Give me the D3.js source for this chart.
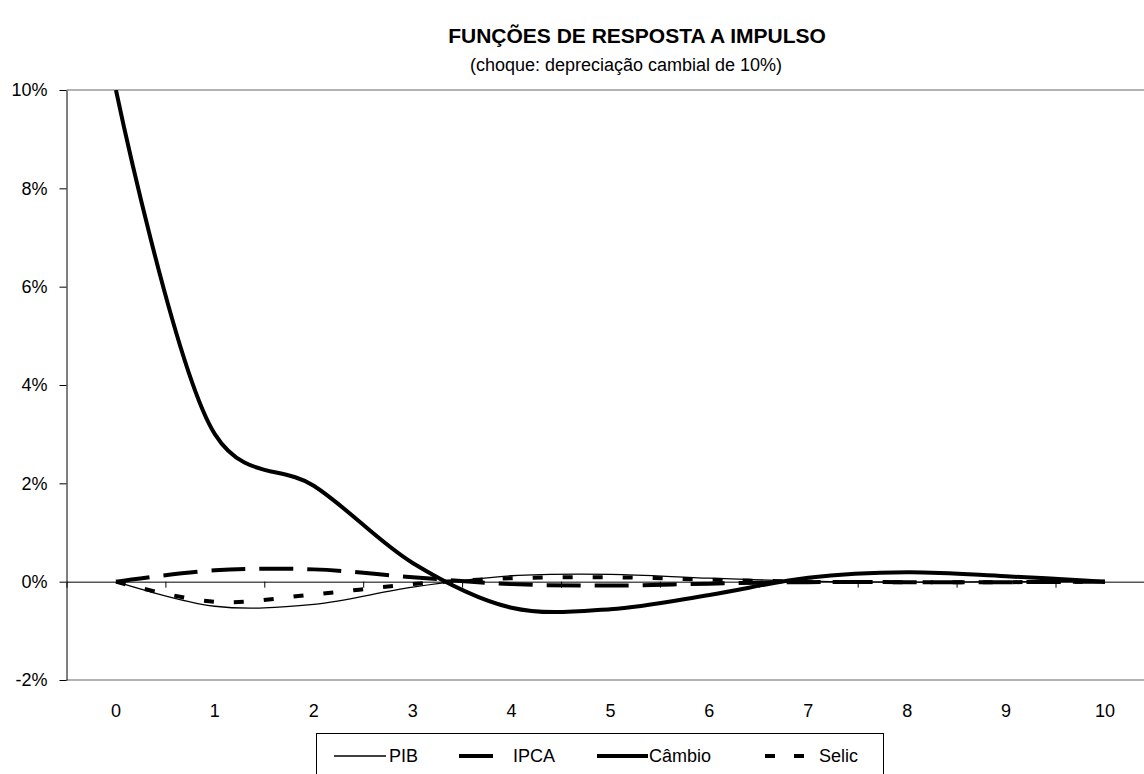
<!DOCTYPE html>
<html>
<head>
<meta charset="utf-8">
<script src="https://cdn.jsdelivr.net/npm/d3@7"></script>
<style>
  html, body { margin: 0; padding: 0; background: #fff; }
  svg { display: block; }
  text { font-family: "Liberation Sans", Arial, sans-serif; fill: #000; }
</style>
</head>
<body>
<svg id="chart" width="1144" height="774"></svg>
<script>
// ---- data ----
const periods = [0, 1, 2, 3, 4, 5, 6, 7, 8, 9, 10];
const pib    = [0, -0.50, -0.46, -0.11, 0.12, 0.15, 0.07, 0.01, -0.01, 0.00, 0.00];
const ipca   = [0, 0.23, 0.25, 0.09, -0.05, -0.08, -0.04, -0.01, -0.01, -0.01, 0.00];
const cambio = [10, 3.0, 1.95, 0.38, -0.53, -0.56, -0.27, 0.08, 0.19, 0.11, 0.00];
const selic  = [0, -0.41, -0.26, -0.05, 0.07, 0.09, 0.04, 0.00, -0.01, -0.01, 0.00];
const yTicks = [-2, 0, 2, 4, 6, 8, 10];
const seriesNames = ["PIB", "IPCA", "Câmbio", "Selic"];
const titleText = "FUNÇÕES DE RESPOSTA A IMPULSO";
const subtitleText = "(choque: depreciação cambial de 10%)";

(function () {
// ---- layout ----
const svg = d3.select("#chart");
const pLeft = 66.5, pTop = 90, pBottom = 680;
const x = d3.scaleLinear().domain([-0.5, 10.5]).range([pLeft, pLeft + 11 * 98.9]);
const y = d3.scaleLinear().domain([-2, 10]).range([pBottom, pTop]);
const font = "Liberation Sans, Arial, sans-serif";

// title
svg.append("text").attr("x", 637).attr("y", 43).attr("text-anchor", "middle")
  .style("font-size", "21px").style("font-weight", "bold").text(titleText);
svg.append("text").attr("x", 626).attr("y", 71).attr("text-anchor", "middle")
  .style("font-size", "18px").text(subtitleText);

// plot borders (top & bottom, gray)
svg.append("line").attr("x1", pLeft).attr("x2", 1144).attr("y1", y(10)).attr("y2", y(10))
  .attr("stroke", "#999").attr("stroke-width", 1.5);
svg.append("line").attr("x1", pLeft).attr("x2", 1144).attr("y1", y(-2)).attr("y2", y(-2))
  .attr("stroke", "#999").attr("stroke-width", 1.5);

// y axis
const yAxis = svg.append("g").attr("transform", `translate(${pLeft},0)`)
  .call(d3.axisLeft(y).tickValues(yTicks).tickFormat(d => d + "%").tickSizeInner(7).tickSizeOuter(0).tickPadding(12));
yAxis.selectAll("text").style("font-size", "18px").style("font-family", font);
yAxis.selectAll("line, path").attr("stroke", "#000");

// zero line with category-boundary ticks
const bounds = d3.range(-0.5, 11, 1);
const xAxis = svg.append("g").attr("transform", `translate(0,${y(0)})`)
  .call(d3.axisBottom(x).tickValues(bounds).tickFormat("").tickSizeInner(6).tickSizeOuter(0));
xAxis.selectAll("line, path").attr("stroke", "#000");

// x labels (low position)
svg.append("g").selectAll("text").data(periods).join("text")
  .attr("x", d => x(d)).attr("y", 717).attr("text-anchor", "middle")
  .style("font-size", "18px").text(d => d);

// clip
svg.append("clipPath").attr("id", "plotclip").append("rect")
  .attr("x", pLeft).attr("y", pTop).attr("width", 1144 - pLeft).attr("height", pBottom - pTop);

const line = d3.line().x((d, i) => x(periods[i])).y(d => y(d)).curve(d3.curveCatmullRom.alpha(0.25));
const g = svg.append("g").attr("clip-path", "url(#plotclip)");

const styles = [
  { data: pib,    width: 1.3, dash: null },
  { data: ipca,   width: 4,   dash: "34,14" },
  { data: cambio, width: 4,   dash: null },
  { data: selic,  width: 4,   dash: "10,20" }
];
styles.forEach(s => {
  g.append("path").datum(s.data).attr("d", line)
    .attr("fill", "none").attr("stroke", "#000")
    .attr("stroke-width", s.width)
    .attr("stroke-dasharray", s.dash);
});

// legend
const lg = svg.append("g");
lg.append("rect").attr("x", 316.5).attr("y", 733.5).attr("width", 567).attr("height", 60)
  .attr("fill", "#fff").attr("stroke", "#000").attr("stroke-width", 1);
const legendItems = [
  { name: seriesNames[0], x1: 334, x2: 386, width: 1.3, dash: null, tx: 389 },
  { name: seriesNames[1], x1: 459, x2: 493, width: 4, dash: null, tx: 513 },
  { name: seriesNames[2], x1: 597, x2: 648, width: 4, dash: null, tx: 649 },
  { name: seriesNames[3], x1: 765, x2: 805, width: 4, dash: "10,19", tx: 819 }
];
legendItems.forEach(it => {
  lg.append("line").attr("x1", it.x1).attr("x2", it.x2).attr("y1", 756).attr("y2", 756)
    .attr("stroke", "#000").attr("stroke-width", it.width).attr("stroke-dasharray", it.dash);
  lg.append("text").attr("x", it.tx).attr("y", 762).style("font-size", "18px").text(it.name);
});
})();
</script>
</body>
</html>
